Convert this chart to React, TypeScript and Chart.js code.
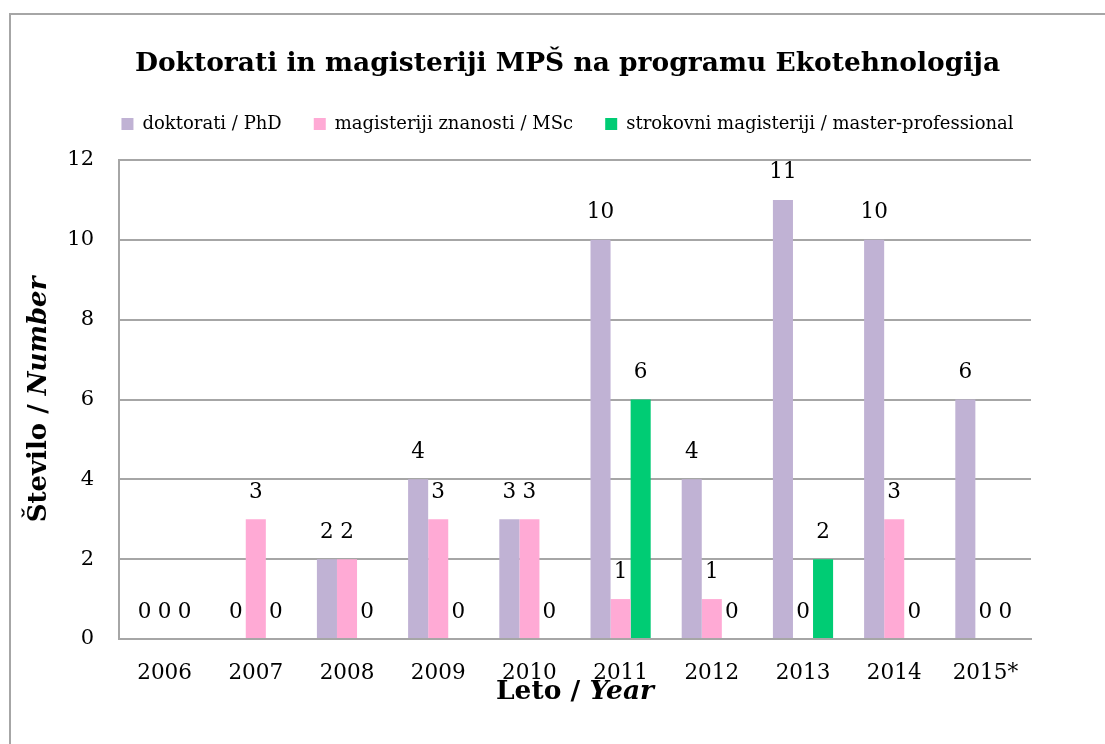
import React, { useEffect, useRef } from "react";
import { Chart, registerables } from "chart.js";

Chart.register(...registerables);

const categories = ["2006", "2007", "2008", "2009", "2010", "2011", "2012", "2013", "2014", "2015*"];
const phdValues = [0, 0, 2, 4, 3, 10, 4, 11, 10, 6];
const mscValues = [0, 3, 2, 3, 3, 1, 1, 0, 3, 0];
const proValues = [0, 0, 0, 0, 0, 6, 0, 2, 0, 0];
const seriesNames = [
  "doktorati / PhD",
  "magisteriji znanosti / MSc",
  "strokovni magisteriji / master-professional",
];
const yTicks = [0, 2, 4, 6, 8, 10, 12];

const FONT = "'DejaVu Serif', serif";

const framePlugin = {
  id: "frame",
  beforeDraw(chart: any) {
    const ctx = chart.ctx;
    ctx.save();
    ctx.fillStyle = "#ffffff";
    ctx.fillRect(0, 0, chart.width, chart.height);
    ctx.strokeStyle = "#a6a6a6";
    ctx.lineWidth = 2;
    ctx.strokeRect(10, 14, 1300, 900);
    ctx.restore();
  },
};

const valueLabelPlugin = {
  id: "valueLabels",
  afterDatasetsDraw(chart: any) {
    const ctx = chart.ctx;
    ctx.save();
    ctx.font = `21.5px ${FONT}`;
    ctx.fillStyle = "#000000";
    ctx.textAlign = "center";
    ctx.textBaseline = "middle";
    chart.data.datasets.forEach((ds: any, i: number) => {
      const meta = chart.getDatasetMeta(i);
      meta.data.forEach((el: any, j: number) => {
        ctx.fillText(String(ds.data[j]), el.x, el.y - 27);
      });
    });
    ctx.restore();
  },
};

function drawMixed(ctx: any, parts: { t: string; italic: boolean }[], size: number) {
  const widths = parts.map((p) => {
    ctx.font = `${p.italic ? "italic " : ""}bold ${size}px ${FONT}`;
    return ctx.measureText(p.t).width;
  });
  const total = widths.reduce((a, b) => a + b, 0);
  let x = -total / 2;
  parts.forEach((p, i) => {
    ctx.font = `${p.italic ? "italic " : ""}bold ${size}px ${FONT}`;
    ctx.fillText(p.t, x, 0);
    x += widths[i];
  });
}

const axisTitlePlugin = {
  id: "axisTitles",
  afterDraw(chart: any) {
    const ctx = chart.ctx;
    const area = chart.chartArea;
    ctx.save();
    ctx.fillStyle = "#000000";
    ctx.textAlign = "left";
    ctx.textBaseline = "middle";
    ctx.save();
    ctx.translate((area.left + area.right) / 2, 692);
    drawMixed(ctx, [{ t: "Leto / ", italic: false }, { t: "Year", italic: true }], 26.5);
    ctx.restore();
    ctx.save();
    ctx.translate(39, (area.top + area.bottom) / 2);
    ctx.rotate(-Math.PI / 2);
    drawMixed(ctx, [{ t: "Število / ", italic: false }, { t: "Number", italic: true }], 26);
    ctx.restore();
    ctx.restore();
  },
};

export default function App() {
  const canvasRef = useRef<HTMLCanvasElement | null>(null);

  useEffect(() => {
    if (!canvasRef.current) return;
    const chart = new Chart(canvasRef.current, {
      type: "bar",
      data: {
        labels: categories,
        datasets: [
          { label: seriesNames[0], data: phdValues, backgroundColor: "#c0b2d4" },
          { label: seriesNames[1], data: mscValues, backgroundColor: "#ffaad5" },
          { label: seriesNames[2], data: proValues, backgroundColor: "#00cc74" },
        ],
      },
      options: {
        animation: false,
        responsive: false,
        maintainAspectRatio: false,
        datasets: {
          bar: { categoryPercentage: 0.66, barPercentage: 1.0 },
        },
        layout: { padding: { left: 30, right: 0, top: 0, bottom: 0 } },
        plugins: {
          title: {
            display: true,
            text: "Doktorati in magisteriji MPŠ na programu Ekotehnologija",
            color: "#000000",
            font: { family: FONT, size: 26.5, weight: "bold", lineHeight: 1.2 },
            padding: { top: 48.1, bottom: 3.1 },
          },
          legend: {
            display: true,
            position: "top",
            labels: {
              boxWidth: 12,
              boxHeight: 12,
              padding: 32,
              color: "#000000",
              font: { family: FONT, size: 18 },
            },
          },
          subtitle: {
            display: true,
            position: "top",
            weight: 500,
            text: " ",
            font: { size: 10, lineHeight: 1 },
            padding: { top: 0, bottom: 7 },
          } as any,
          tooltip: { enabled: false },
        },
        scales: {
          x: {
            grid: { display: false, drawTicks: false },
            border: { display: true, color: "#a6a6a6", width: 2 },
            ticks: {
              color: "#000000",
              padding: 22,
              font: { family: FONT, size: 21.5 },
              maxRotation: 0,
            },
            afterFit(scale: any) {
              scale.height = 105;
            },
          },
          y: {
            min: 0,
            max: 12,
            afterBuildTicks(scale: any) {
              scale.ticks = yTicks.map((v) => ({ value: v }));
            },
            grid: { color: "#a6a6a6", lineWidth: 2, drawTicks: false },
            border: { display: true, color: "#a6a6a6", width: 2 },
            ticks: {
              color: "#000000",
              padding: 25,
              font: { family: FONT, size: 21 },
            },
            afterFit(scale: any) {
              scale.width = 89;
            },
          },
          y2: {
            type: "linear",
            position: "right",
            display: true,
            min: 0,
            max: 12,
            grid: { display: false, drawTicks: false },
            border: { display: false },
            ticks: { display: false },
            afterFit(scale: any) {
              scale.width = 74;
            },
          },
        },
      },
      plugins: [framePlugin, valueLabelPlugin, axisTitlePlugin],
    });
    return () => chart.destroy();
  }, []);

  return (
    <div style={{ position: "fixed", left: 0, top: 0, width: 1105, height: 744, background: "#fff" }}>
      <canvas ref={canvasRef} width={1105} height={744} style={{ display: "block", width: 1105, height: 744 }} />
    </div>
  );
}
